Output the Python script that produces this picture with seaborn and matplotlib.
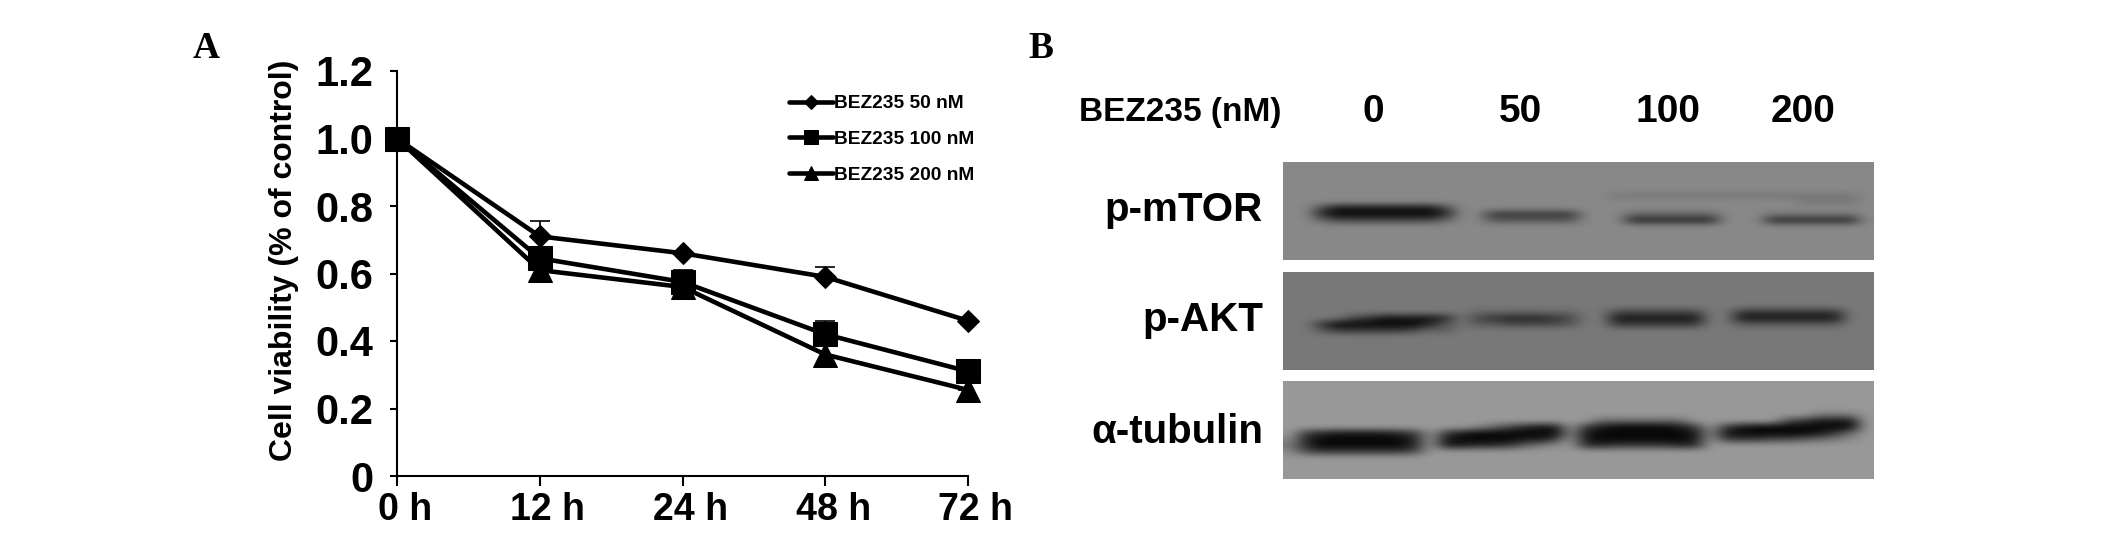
import matplotlib
matplotlib.use("Agg")
import matplotlib.pyplot as plt
import matplotlib.transforms as mtrans
import numpy as np
import pandas as pd
import seaborn as sns

# panel A values
times = ["0 h", "12 h", "24 h", "48 h", "72 h"]
doses = ["BEZ235 50 nM", "BEZ235 100 nM", "BEZ235 200 nM"]
viability_50 = [1.0, 0.71, 0.66, 0.59, 0.46]
viability_100 = [1.0, 0.645, 0.575, 0.42, 0.31]
viability_200 = [1.0, 0.61, 0.56, 0.36, 0.255]
err_50 = [0, 0.045, 0, 0.03, 0]
err_100 = [0, 0, 0.035, 0.04, 0]
err_200 = [0, 0, 0, 0, 0.02]
yticks = [0, 0.2, 0.4, 0.6, 0.8, 1.0, 1.2]
yticklabels = ["0", "0.2", "0.4", "0.6", "0.8", "1.0", "1.2"]

# panel B labels
lanes = ["0", "50", "100", "200"]
proteins = ["p-mTOR", "p-AKT", "\u03b1-tubulin"]

# panel B blot density read by eye, one hex digit per cell (0 dark, f light)
blot_mtor = [
    "88888888888888888888888888888888888888",
    "88888888888888888888888888888888888888",
    "88888888888888888888888888888888888888",
    "88888888888888888888888888888888888888",
    "88888888888888888888888888888888888888",
    "88888888888888888888877777777777777778",
    "88888888888888888888888888888888877778",
    "88411111114888888888888888888888888888",
    "88200000002883333338886666668887777778",
    "88644444446885555558882222228882222228",
    "88888888888888888888888888888888888888",
    "88888888888888888888888888888888888888",
    "88888888888888888888888888888888888888",
    "88888888888888888888888888888888888888",
    "88888888888888888888888888888888888888",
    "88888888888888888888888888888888888888",
]
blot_akt = [
    "77777777777777777777777777777777777777",
    "77777777777777777777777777777777777777",
    "77777777777777777777777777777777777777",
    "77777777777777777777777777777777777777",
    "77777777777777777777777777777777777777",
    "77777777777777777777777777777777777777",
    "77777777777766666667744444477333333377",
    "77774311112743222347711111177111111177",
    "77300000025755444457733333377555555577",
    "77533333465777777777777777777777777777",
    "77777777777777777777777777777777777777",
    "77777777777777777777777777777777777777",
    "77777777777777777777777777777777777777",
    "77777777777777777777777777777777777777",
    "77777777777777777777777777777777777777",
    "77777777777777777777777777777777777777",
]
blot_tubulin = [
    "99999999999999999999999999999999999999",
    "99999999999999999999999999999999999999",
    "99999999999999999999999999999999999999",
    "99999999999999999999999999999999999999",
    "99999999999999999999999999999999999999",
    "99999999999999999999999999999999997779",
    "99999999999999999999666666999999431119",
    "99999999999986421193100001393100000009",
    "93211112393100000081000000181000001369",
    "82000000291000011391000000193334456789",
    "72000000291122357892233332299999999999",
    "84333333499999999999999999999999999999",
    "99999999999999999999999999999999999999",
    "99999999999999999999999999999999999999",
    "99999999999999999999999999999999999999",
    "99999999999999999999999999999999999999",
]

W, H = 2126, 543
sns.set_theme(style="ticks")
plt.rcParams["font.family"] = ["Liberation Sans", "DejaVu Sans"]
plt.rcParams["font.weight"] = "bold"
plt.rcParams["text.color"] = "black"
plt.rcParams["xtick.color"] = "black"
plt.rcParams["ytick.color"] = "black"
plt.rcParams["axes.edgecolor"] = "black"

fig = plt.figure(figsize=(W / 100, H / 100), dpi=100, facecolor="white")


def px_axes(left, top, right, bottom):
    return fig.add_axes([left / W, 1 - bottom / H, (right - left) / W, (bottom - top) / H])


def px_text(x, y, s, **kw):
    kw.setdefault("va", "center")
    fig.text(x / W, 1 - y / H, s, **kw)


ax = px_axes(397, 71, 968, 476)
pos = np.arange(len(times))
df = pd.DataFrame({
    "pos": np.tile(pos, 3),
    "viability": viability_50 + viability_100 + viability_200,
    "dose": np.repeat(doses, len(times)),
})
styles = [("D", 11), ("s", 17), ("^", 17)]
for dose, (marker, size), err, vals in zip(doses, styles, [err_50, err_100, err_200],
                                            [viability_50, viability_100, viability_200]):
    err = np.array(err)
    keep = err > 0
    ax.errorbar(pos[keep], np.array(vals)[keep], yerr=[np.zeros(keep.sum()), err[keep]],
                fmt="none", ecolor="black", elinewidth=1.2, capsize=7, capthick=1.2)
    sns.lineplot(data=df[df["dose"] == dose], x="pos", y="viability", ax=ax, color="black",
                 marker=marker, markersize=size, markeredgecolor="black", linewidth=3.3,
                 label=dose, clip_on=False, errorbar=None)

ax.set_xlim(0, 4)
ax.set_ylim(0, 1.2)
ax.set_xticks(pos)
ax.set_xticklabels(times, fontsize=27)
ax.set_yticks(yticks)
ax.set_yticklabels(yticklabels, fontsize=30)
ax.set_xlabel("")
ax.set_ylabel("")
ax.tick_params(axis="x", length=7, width=1.5, pad=4.5)
ax.tick_params(axis="y", length=5, width=1.5, pad=12)
for lbl in ax.get_xticklabels():
    lbl.set_transform(lbl.get_transform() + mtrans.ScaledTranslation(8 / 100, 0, fig.dpi_scale_trans))
sns.despine(ax=ax)
for side in ["left", "bottom"]:
    ax.spines[side].set_linewidth(1.5)

leg = ax.legend(loc="upper left", bbox_to_anchor=(789 / W, 1 - 95 / H),
                bbox_transform=fig.transFigure, frameon=False, fontsize=13.8,
                handlelength=2.3, handletextpad=0.05, labelspacing=0.95,
                borderpad=0, borderaxespad=0)
for line, size in zip(leg.get_lines(), [7, 10, 10]):
    line.set_markersize(size)

px_text(284, 260, "Cell viability (% of control)", fontsize=23, rotation=90, ha="center")
px_text(206, 49, "A", fontsize=27, ha="center", family="Liberation Serif")
px_text(1041, 49, "B", fontsize=27, ha="center", family="Liberation Serif")

px_text(1079, 112, "BEZ235 (nM)", fontsize=24, ha="left")
for x, lane in zip([1373, 1520, 1668, 1803], lanes):
    px_text(x, 112, lane, fontsize=28, ha="center")

blots = [blot_mtor, blot_akt, blot_tubulin]
tops = [162, 272, 381]
label_y = [210, 320, 432]
for blot, top, name, ly in zip(blots, tops, proteins, label_y):
    bax = px_axes(1283, top, 1874, top + 98)
    grid = np.array([[int(c, 16) * 16 + 8 for c in row] for row in blot])
    bax.imshow(grid, cmap="gray", vmin=0, vmax=255, aspect="auto", interpolation="bicubic")
    bax.axis("off")
    px_text(1263, ly, name, fontsize=29, ha="right")

fig.savefig("out.png", dpi=100)
